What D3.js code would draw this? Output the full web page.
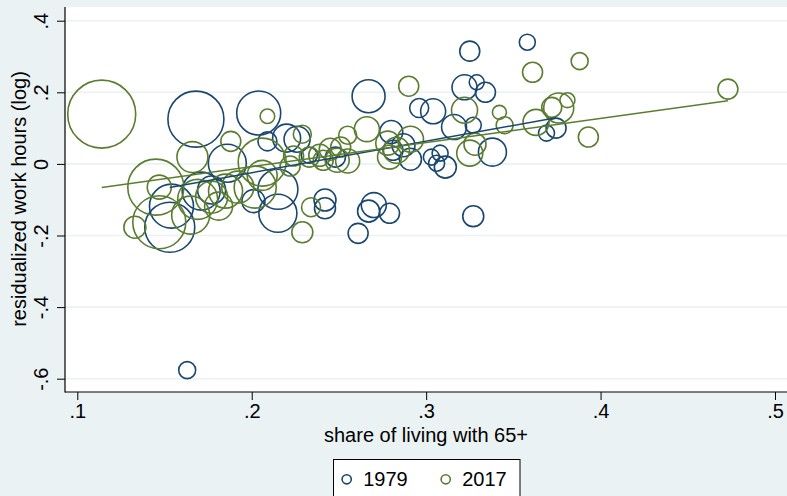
<!DOCTYPE html>
<html>
<head>
<meta charset="utf-8">
<script src="https://cdn.jsdelivr.net/npm/d3@7"></script>
<style>
  body { margin: 0; background: #eaf2f3; }
  svg { display: block; font-family: "Liberation Sans", Arial, sans-serif; }
</style>
</head>
<body>
<svg id="chart" width="787" height="496"></svg>
<script>
// ---- data: share of population living with someone aged 65+, residualized log work hours, cell weight ----
const share1979 = [0.168, 0.204, 0.209, 0.220, 0.226, 0.186, 0.154, 0.153, 0.171, 0.215,
                   0.201, 0.215, 0.163, 0.242, 0.242, 0.261, 0.270, 0.267, 0.279, 0.327,
                   0.267, 0.296, 0.304, 0.280, 0.287, 0.281, 0.291, 0.303, 0.308, 0.306,
                   0.311, 0.316, 0.327, 0.322, 0.329, 0.334, 0.325, 0.358, 0.3745, 0.369,
                   0.338, 0.248, 0.233, 0.177];
const hours1979 = [0.125, 0.142, 0.063, 0.072, 0.069, 0.002, -0.118, -0.177, -0.076, -0.071,
                   -0.104, -0.138, -0.576, -0.101, -0.124, -0.194, -0.115, -0.132, -0.138, -0.146,
                   0.189, 0.156, 0.147, 0.089, 0.052, 0.038, 0.013, 0.019, 0.030, 0.002,
                   -0.009, 0.103, 0.108, 0.214, 0.228, 0.200, 0.315, 0.340, 0.100, 0.086,
                   0.033, 0.019, 0.024, -0.073];
const weight1979 = [7.84, 4.84, 0.90, 1.96, 1.69, 3.61, 4.84, 6.25, 3.61, 4.00,
                    1.32, 3.61, 0.72, 1.21, 1.10, 1.00, 1.56, 1.21, 1.00, 1.10,
                    2.72, 0.90, 1.56, 1.32, 1.32, 1.00, 1.21, 0.64, 0.64, 0.64,
                    1.21, 1.56, 0.64, 1.56, 0.56, 1.00, 1.00, 0.64, 1.00, 0.64,
                    1.96, 1.00, 0.64, 1.96];

const share2017 = [0.114, 0.145, 0.147, 0.133, 0.147, 0.166, 0.188, 0.209, 0.206, 0.224,
                   0.222, 0.229, 0.169, 0.177, 0.185, 0.192, 0.181, 0.202, 0.206, 0.165,
                   0.229, 0.234, 0.233, 0.239, 0.245, 0.251, 0.249, 0.255, 0.241, 0.255,
                   0.266, 0.278, 0.283, 0.291, 0.279, 0.290, 0.322, 0.328, 0.325, 0.342,
                   0.345, 0.363, 0.372, 0.376, 0.381, 0.393, 0.361, 0.388, 0.473];
const hours2017 = [0.139, -0.065, -0.065, -0.177, -0.163, 0.019, 0.063, 0.133, 0.005, 0.022,
                   -0.006, 0.083, -0.099, -0.093, -0.076, -0.065, -0.118, -0.065, -0.032, -0.143,
                   -0.191, -0.121, 0.019, 0.024, 0.041, 0.047, 0.010, 0.008, 0.010, 0.080,
                   0.097, 0.058, 0.038, 0.069, 0.019, 0.217, 0.150, 0.055, 0.030, 0.144,
                   0.108, 0.116, 0.158, 0.156, 0.178, 0.075, 0.256, 0.287, 0.209];
const weight2017 = [11.56, 7.84, 1.44, 1.21, 7.02, 2.40, 1.00, 0.53, 5.76, 1.00,
                    1.00, 0.81, 4.00, 2.56, 2.89, 2.56, 1.96, 4.41, 2.25, 3.61,
                    1.10, 0.90, 1.00, 1.21, 1.21, 1.00, 1.44, 1.44, 1.00, 0.81,
                    1.56, 1.44, 1.69, 1.69, 1.44, 1.00, 1.69, 1.21, 1.69, 0.49,
                    0.72, 1.69, 1.00, 2.25, 0.56, 1.00, 1.00, 0.72, 1.00];

// linear fit per year: [intercept, slope]
const fit1979 = [-0.2008, 0.8807];
const fit2017 = [-0.1424, 0.6736];

const seriesNames = ["1979", "2017"];
const seriesColors = ["#1a476f", "#5b7d30"];

const xTicks = [0.1, 0.2, 0.3, 0.4, 0.5];
const xTickLabels = [".1", ".2", ".3", ".4", ".5"];
const yTicks = [-0.6, -0.4, -0.2, 0, 0.2, 0.4];
const yTickLabels = ["-.6", "-.4", "-.2", "0", ".2", ".4"];

const xTitle = "share of living with 65+";
const yTitle = "residualized work hours (log)";

// ---- layout ----
const W = 787, H = 496;
const plot = { left: 65, top: 7, right: 800, bottom: 392 };

const svg = d3.select("#chart");
const x = d3.scaleLinear().domain([0.1, 0.5]).range([77.3, 775]);
const y = d3.scaleLinear().domain([-0.6, 0.4]).range([378.7, 20.7]);
const r = d3.scaleSqrt().domain([0, 1]).range([0, 10]);

svg.append("rect").attr("width", W).attr("height", H).attr("fill", "#eaf2f3");
svg.append("rect")
  .attr("x", plot.left).attr("y", plot.top)
  .attr("width", plot.right - plot.left).attr("height", plot.bottom - plot.top)
  .attr("fill", "#ffffff");

// horizontal gridlines
svg.append("g").selectAll("line").data(yTicks).join("line")
  .attr("x1", plot.left).attr("x2", plot.right)
  .attr("y1", d => y(d)).attr("y2", d => y(d))
  .attr("stroke", "#eaf2f3").attr("stroke-width", 1.6);

// bubbles
const series = [
  { name: seriesNames[0], color: seriesColors[0], xs: share1979, ys: hours1979, ws: weight1979, fit: fit1979 },
  { name: seriesNames[1], color: seriesColors[1], xs: share2017, ys: hours2017, ws: weight2017, fit: fit2017 }
];

series.forEach(s => {
  const pts = s.xs.map((v, i) => ({ x: v, y: s.ys[i], w: s.ws[i] }));
  svg.append("g").selectAll("circle").data(pts).join("circle")
    .attr("cx", d => x(d.x)).attr("cy", d => y(d.y)).attr("r", d => r(d.w))
    .attr("fill", "none").attr("stroke", s.color).attr("stroke-width", 1.6);
});

// fitted lines over each year's range
series.forEach(s => {
  const ext = d3.extent(s.xs);
  const line = d3.line().x(d => x(d)).y(d => y(s.fit[0] + s.fit[1] * d));
  svg.append("path").datum(ext).attr("d", line)
    .attr("fill", "none").attr("stroke", s.color).attr("stroke-width", 1.5);
});

// axes
const yAxis = d3.axisLeft(y).tickValues(yTicks).tickSize(8)
  .tickFormat((d, i) => yTickLabels[i]);
const gy = svg.append("g").attr("transform", `translate(${plot.left},0)`).call(yAxis);
gy.select(".domain").remove();
gy.selectAll(".tick line").attr("stroke", "#000").attr("stroke-width", 1);
gy.selectAll(".tick text")
  .attr("x", null).attr("dy", null)
  .attr("transform", "translate(-17.5,0) rotate(-90)")
  .attr("text-anchor", "middle")
  .attr("font-size", 20).attr("fill", "#000")
  .attr("font-family", "Liberation Sans, Arial, sans-serif");

const xAxis = d3.axisBottom(x).tickValues(xTicks).tickSize(8)
  .tickFormat((d, i) => xTickLabels[i]);
const gx = svg.append("g").attr("transform", `translate(0,${plot.bottom})`).call(xAxis);
gx.select(".domain").remove();
gx.selectAll(".tick line").attr("stroke", "#000").attr("stroke-width", 1);
gx.selectAll(".tick text")
  .attr("y", 26).attr("dy", null)
  .attr("font-size", 20).attr("fill", "#000")
  .attr("font-family", "Liberation Sans, Arial, sans-serif");

svg.append("line").attr("x1", plot.left).attr("x2", plot.left)
  .attr("y1", plot.top).attr("y2", plot.bottom + 0.5)
  .attr("stroke", "#000").attr("stroke-width", 1.2);
svg.append("line").attr("x1", plot.left).attr("x2", plot.right)
  .attr("y1", plot.bottom).attr("y2", plot.bottom)
  .attr("stroke", "#000").attr("stroke-width", 1.2);

// axis titles
svg.append("text").attr("x", 426).attr("y", 442)
  .attr("text-anchor", "middle").attr("font-size", 20).text(xTitle);
svg.append("text").attr("transform", "translate(25.5,199) rotate(-90)")
  .attr("text-anchor", "middle").attr("font-size", 20).text(yTitle);

// legend
const lg = svg.append("g");
lg.append("rect").attr("x", 333.5).attr("y", 459.5).attr("width", 186.5).attr("height", 50)
  .attr("fill", "#fff").attr("stroke", "#000").attr("stroke-width", 1);
const legendX = [346.7, 445.7];
series.forEach((s, i) => {
  lg.append("circle").attr("cx", legendX[i]).attr("cy", 479.3).attr("r", 4.6)
    .attr("fill", "none").attr("stroke", s.color).attr("stroke-width", 1.6);
  lg.append("text").attr("x", legendX[i] + 16.5).attr("y", 486)
    .attr("font-size", 20).text(s.name);
});
</script>
</body>
</html>
